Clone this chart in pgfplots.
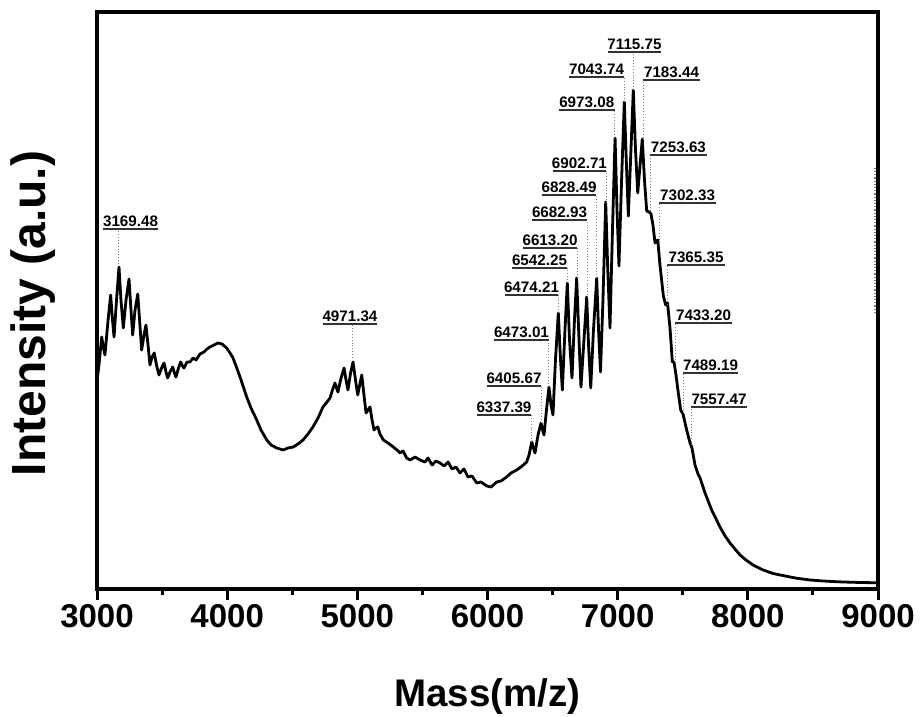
\documentclass[border=0pt]{standalone}
\usepackage{fontspec}
\setmainfont{Liberation Sans}
\usepackage{pgfplots}
\pgfplotsset{compat=1.18}
\newcommand{\lab}{\fontsize{7.6}{8}\selectfont\bfseries}
% \peak{dash x}{dash bottom}{underline y}{left}{right}{text}
\newcommand{\peak}[6]{%
  \draw[gray, densely dotted, line width=0.45pt] (axis cs:#1,#2) -- (axis cs:#1,#3);
  \draw[black!80, line width=0.6pt] (axis cs:#4,#3) -- node[midway, anchor=base, yshift=1.4pt, inner sep=0pt, font=\lab, text=black]{#6} (axis cs:#5,#3);
}
\begin{document}
\begin{tikzpicture}
\begin{axis}[
  scale only axis, width=390.5pt, height=288.5pt,
  xmin=3000, xmax=9000, ymin=0, ymax=577,
  xtick={3000,4000,5000,6000,7000,8000,9000},
  minor x tick num=1,
  ytick=\empty,
  xtick pos=left,
  tick align=outside,
  major tick length=5.5pt, minor tick length=3pt,
  every tick/.append style={black, line width=1.5pt},
  axis line style={line width=2pt},
  scaled x ticks=false,
  /pgf/number format/.cd, set thousands separator={}, assume math mode=true,
  /pgfplots/.cd,
  xticklabel style={font=\fontsize{16.5}{18}\selectfont\bfseries, anchor=base, yshift=-14pt},
  xlabel={Mass(m/z)},
  xlabel style={at={(axis description cs:0.5,-0.2045)}, anchor=base, font=\fontsize{19.25}{22}\selectfont\bfseries},
  ylabel={Intensity (a.u.)},
  ylabel style={at={(axis description cs:-0.0653,0.4775)}, anchor=base, font=\fontsize{24}{26}\selectfont\bfseries},
]
\addplot[black, line width=1.4pt, line join=round, mark=none] table {
m I
3004 212
3015 224
3036 252
3050 241
3061 234
3085 269
3105 294
3119 269
3131 252
3150 289
3169 322
3184 289
3202 261
3223 289
3246 310
3261 279
3274 254
3292 279
3313 295
3327 269
3343 239
3361 254
3376 264
3392 244
3407 224
3423 232
3440 236
3457 224
3476 214
3496 221
3515 226
3530 217
3543 211
3561 217
3582 222
3595 216
3607 212
3626 221
3643 227
3657 223
3668 221
3691 227
3714 227
3738 231
3761 229
3791 235
3822 237
3845 240
3868 242
3899 244
3930 246
3960 245
3996 241
4022 236
4045 231
4068 223
4099 212
4122 203
4150 192
4183 181
4227 169
4260 159
4304 149
4337 144
4381 141
4406 140
4431 139
4467 141
4508 142
4544 145
4583 149
4621 155
4659 162
4698 171
4736 182
4767 187
4790 191
4809 199
4828 206
4840 201
4851 197
4875 211
4898 221
4913 209
4928 199
4948 216
4967 227
4986 209
5003 194
5018 204
5034 214
5051 194
5067 176
5082 179
5097 182
5113 169
5128 159
5143 161
5157 162
5174 155
5200 149
5236 146
5276 142
5305 139
5328 136
5351 138
5379 131
5405 129
5443 132
5481 129
5520 127
5543 131
5574 124
5604 128
5635 126
5666 123
5697 127
5727 120
5758 122
5789 116
5819 120
5850 112
5881 113
5917 106
5950 107
5994 103
6027 102
6071 107
6104 108
6147 112
6181 116
6224 119
6257 122
6301 127
6319 134
6340 147
6353 141
6365 136
6388 154
6411 166
6423 159
6434 154
6453 179
6472 202
6488 184
6503 174
6522 229
6544 276
6561 229
6575 199
6595 259
6613 306
6630 249
6649 211
6668 269
6685 311
6703 249
6718 202
6741 249
6762 292
6778 239
6793 201
6814 259
6839 311
6853 259
6868 217
6887 289
6908 387
6924 319
6941 261
6960 359
6980 451
6995 379
7010 323
7030 409
7051 487
7066 429
7082 373
7102 439
7120 499
7137 439
7154 396
7172 424
7189 450
7206 409
7223 378
7241 377
7256 375
7271 364
7287 346
7308 349
7325 324
7351 293
7369 284
7383 286
7402 261
7420 227
7433 227
7448 214
7466 196
7484 179
7502 175
7530 159
7556 146
7571 141
7594 124
7617 115
7633 111
7671 96
7722 79
7756 70
7786 62
7825 53
7863 46
7901 40
7940 34
7986 29
8040 24
8117 19
8193 15.5
8286 13
8378 10.7
8478 9
8578 8
8693 7.2
8808 6.7
8908 6.4
9000 6.2
};
\peak{3165}{325}{360}{3046}{3469}{3169.48}
\peak{4963}{231}{265}{4736}{5151}{4971.34}
\peak{6334}{147}{174}{5919}{6334}{6337.39}
\peak{6411}{166}{203}{5996}{6411}{6405.67}
\peak{6472}{202}{249}{6050}{6472}{6473.01}
\peak{6542}{276}{294}{6134}{6542}{6474.21}
\peak{6611}{306}{321}{6188}{6611}{6542.25}
\peak{6688}{311}{341}{6273}{6688}{6613.20}
\peak{6764}{291}{369}{6342}{6764}{6682.93}
\peak{6834}{311}{394}{6419}{6834}{6828.49}
\peak{6910}{386}{418}{6503}{6910}{6902.71}
\peak{6976}{451}{479}{6549}{6976}{6973.08}
\peak{7049}{487}{512}{6626}{7049}{7043.74}
\peak{7120}{499}{537}{6926}{7333}{7115.75}
\peak{7195}{451}{509}{7195}{7633}{7183.44}
\peak{7248}{378}{434}{7248}{7686}{7253.63}
\peak{7318}{346}{386}{7318}{7756}{7302.33}
\peak{7379}{284}{324}{7379}{7825}{7365.35}
\peak{7441}{226}{266}{7441}{7878}{7433.20}
\peak{7502}{176}{216}{7502}{7925}{7489.19}
\peak{7563}{144}{182}{7563}{7994}{7557.47}
\draw[gray, densely dotted, line width=0.6pt] (axis cs:8977,276) -- (axis cs:8977,421);
\coordinate (bbsw) at (axis description cs:-0.12420,-0.22184);
\coordinate (bbne) at (axis description cs:1.05506,1.02080);
\end{axis}
\pgfresetboundingbox
\path[use as bounding box] (bbsw) rectangle (bbne);
\end{tikzpicture}
\end{document}
